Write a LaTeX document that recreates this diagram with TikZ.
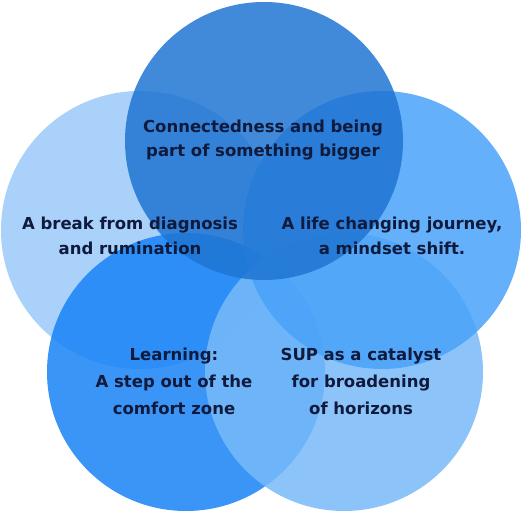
\documentclass[tikz,border=0pt]{standalone}
\usepackage{fontspec}
\setmainfont{DejaVu Sans}
\usepackage{xcolor}
\usetikzlibrary{positioning}

\definecolor{topblue}{HTML}{1F75D2}
\definecolor{leftblue}{HTML}{9AC9F9}
\definecolor{rightblue}{HTML}{49A2F9}
\definecolor{blblue}{HTML}{1783F6}
\definecolor{brblue}{HTML}{78BAF9}
\definecolor{inkblue}{HTML}{0F1A3C}

\begin{document}
\begin{tikzpicture}[
    x=1pt, y=1pt,
    blob/.style={
        circle,
        draw=none,
        fill opacity=0.85,
        minimum size=278pt,
        inner sep=0pt
    },
    theme/.style={
        align=center,
        text=inkblue,
        font=\bfseries\fontsize{16.5}{24.5}\selectfont
    }
]

\useasboundingbox (0,0) rectangle (528,512);

% Circles
\node[blob, fill=leftblue]  (lc) at (140, 282) {};
\node[blob, fill=blblue]    (bl) at (186, 140) {};
\node[blob, fill=brblue]    (br) at (344, 140) {};
\node[blob, fill=rightblue] (rc) at (382, 282) {};
\node[blob, fill=topblue]   (tc) at (264, 371) {};

% Themes
\node[theme] (ttop)   at (263, 372) {Connectedness and being\\part of something bigger};
\node[theme] (tleft)  at (130, 276) {A break from diagnosis\\and rumination};
\node[theme] (tright) at (392, 276) {A life changing journey,\\a mindset shift.};
\node[theme, font=\bfseries\fontsize{16.5}{27}\selectfont] (tbl) at (174, 131) {Learning:\\A step out of the\\comfort zone};
\node[theme, font=\bfseries\fontsize{16.5}{27}\selectfont] (tbr) at (361, 131) {SUP as a catalyst\\for broadening\\of horizons};

\end{tikzpicture}
\end{document}
